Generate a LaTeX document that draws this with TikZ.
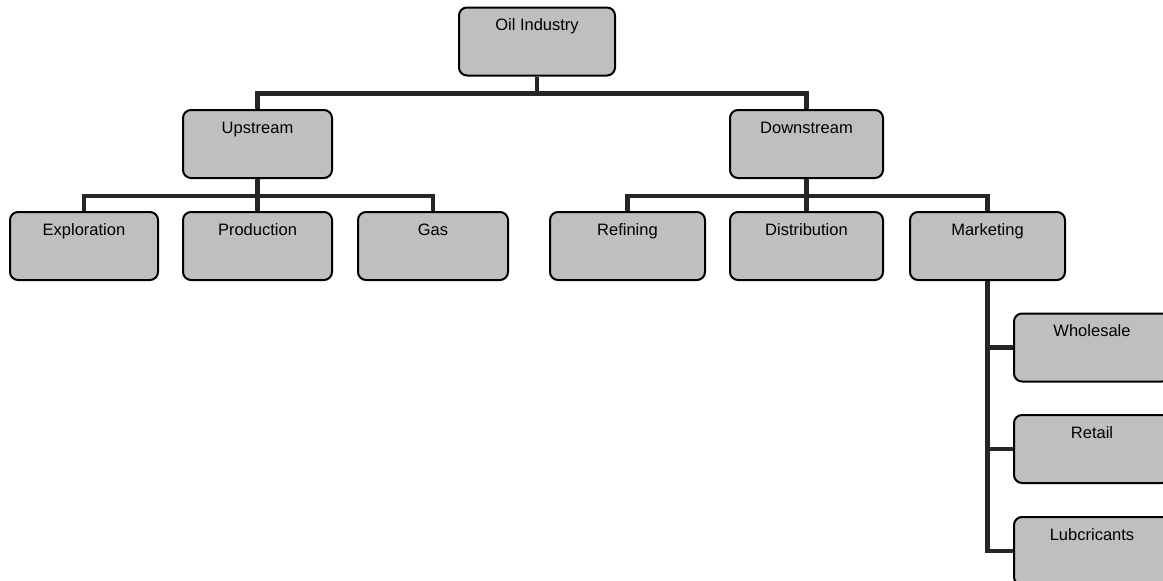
\documentclass[tikz,border=0pt]{standalone}
\usepackage{fontspec}
\setmainfont{Liberation Sans}
\begin{document}
\begin{tikzpicture}[x=1pt,y=-1pt,
  box/.style={draw=black, line width=2pt, fill=black!25, rounded corners=8pt,
    inner sep=0pt, text height=23pt, text depth=45pt, minimum width=#1,
    font=\fontsize{16.5}{19}\selectfont, anchor=center},
  box/.default=150pt,
  conn/.style={line width=4.5pt, draw=black!85}
]
\useasboundingbox (0,0) rectangle (1163,581);
\clip (0,0) rectangle (1163,581);
\node[box=156pt] (oil) at (537,41.5) {Oil Industry};
\node[box=149pt] (up) at (257.5,144) {Upstream};
\node[box=153pt] (down) at (806.5,144) {Downstream};
\node[box=148pt] (expl) at (84,246) {Exploration};
\node[box=149pt] (prod) at (257.5,246) {Production};
\node[box=150pt] (gas) at (433,246) {Gas};
\node[box=155pt] (ref) at (627.5,246) {Refining};
\node[box=153pt] (dist) at (806.5,246) {Distribution};
\node[box=155pt] (mkt) at (987.5,246) {Marketing};
\node[box=156pt] (whole) at (1092,347.5) {Wholesale};
\node[box=156pt] (ret) at (1092,449) {Retail};
\node[box=156pt] (lub) at (1092,551) {Lubcricants};
\draw[conn] (oil.south) -- ++(0,17) coordinate (b1);
\draw[conn] (b1) -| (up.north);
\draw[conn] (b1) -| (down.north);
\draw[conn] (up.south) -- ++(0,17) coordinate (b2);
\draw[conn] (b2) -| (expl.north);
\draw[conn] (b2) -| (gas.north);
\draw[conn] (b2) -- (prod.north);
\draw[conn] (down.south) -- ++(0,17) coordinate (b3);
\draw[conn] (b3) -| (ref.north);
\draw[conn] (b3) -| (mkt.north);
\draw[conn] (b3) -- (dist.north);
\draw[conn] (mkt.south) |- (lub.west);
\draw[conn] (mkt.south) |- (whole.west);
\draw[conn] (mkt.south) |- (ret.west);
\end{tikzpicture}
\end{document}
